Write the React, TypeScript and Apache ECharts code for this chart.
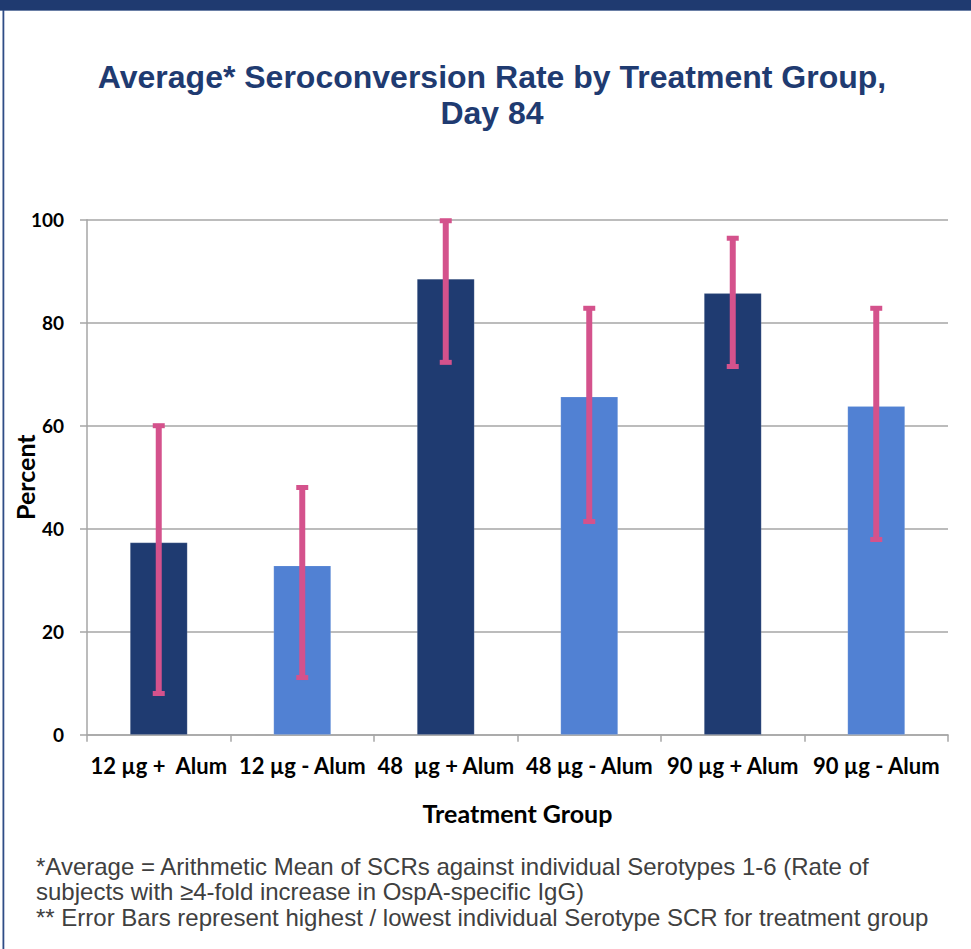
import React, { useEffect, useRef } from "react";
import * as echarts from "echarts";

const categories = ["12 µg +  Alum", "12 µg - Alum", "48  µg + Alum", "48 µg - Alum", "90 µg + Alum", "90 µg - Alum"];
const meanValues = [37.3, 32.8, 88.5, 65.6, 85.7, 63.8];
const highValues = [60, 48, 99.8, 82.8, 96.4, 82.8];
const lowValues = [8, 11.1, 72.3, 41.4, 71.5, 37.9];
const yTicks = [0, 20, 40, 60, 80, 100];
const titleLines = ["Average* Seroconversion Rate by Treatment Group,", "Day 84"];
const footnotes = [
  "*Average = Arithmetic Mean of SCRs against individual Serotypes 1-6 (Rate of",
  "subjects with ≥4-fold increase in OspA-specific IgG)",
  "** Error Bars represent highest / lowest individual Serotype SCR for treatment group",
];

const DARK = "#1F3B71";
const LIGHT = "#5181D3";
const PINK = "#D4528C";
const LABEL_FONT = "Lato";

export default function App() {
  const ref = useRef<HTMLDivElement>(null);
  useEffect(() => {
    if (!ref.current) return;
    const chart = echarts.init(ref.current, null, { renderer: "svg" });
    const barData = meanValues.map((v, i) => ({
      value: v,
      itemStyle: { color: i % 2 === 0 ? DARK : LIGHT },
    }));
    const errData = categories.map((_, i) => [i, lowValues[i], highValues[i]]);
    chart.setOption({
      animation: false,
      backgroundColor: "#ffffff",
      grid: {
        left: 87,
        right: 23,
        top: 219.7,
        bottom: 214.3,
        containLabel: false,
        outerBoundsMode: "none",
      },
      xAxis: {
        type: "category",
        data: categories,
        name: "Treatment Group",
        nameLocation: "middle",
        nameGap: 66,
        nameMoveOverlap: false,
        nameTextStyle: { fontFamily: LABEL_FONT, fontWeight: "bold", fontSize: 25, color: "#000" },
        axisLine: { lineStyle: { color: "#A6A6A6", width: 1.5 } },
        axisTick: { show: true, length: 7, lineStyle: { color: "#A6A6A6", width: 1.5 } },
        axisLabel: {
          fontFamily: LABEL_FONT,
          fontWeight: "bold",
          fontSize: 22,
          color: "#000",
          margin: 20,
          interval: 0,
        },
      },
      yAxis: {
        type: "value",
        min: 0,
        max: 100,
        interval: 20,
        name: "Percent",
        nameLocation: "middle",
        nameGap: 49.5,
        nameMoveOverlap: false,
        nameRotate: 90,
        nameTextStyle: { fontFamily: LABEL_FONT, fontWeight: "bold", fontSize: 25, color: "#000" },
        axisLine: { show: true, lineStyle: { color: "#A6A6A6", width: 1.5 } },
        axisTick: { show: true, length: 7, lineStyle: { color: "#A6A6A6", width: 1.5 } },
        splitLine: { lineStyle: { color: "#A6A6A6", width: 1.5 } },
        axisLabel: {
          fontFamily: LABEL_FONT,
          fontWeight: "bold",
          fontSize: 19,
          color: "#000",
          margin: 23,
          formatter: (v: number) => (yTicks.includes(v) ? String(v) : ""),
        },
      },
      series: [
        {
          type: "bar",
          data: barData,
          barWidth: "40%",
          itemStyle: { borderColor: "rgba(255,255,255,0.25)", borderWidth: 0.5 },
        },
        {
          type: "custom",
          data: errData,
          z: 10,
          renderItem: (params: any, api: any) => {
            const idx = api.value(0);
            const lo = api.coord([idx, api.value(1)]);
            const hi = api.coord([idx, api.value(2)]);
            const capW = 12;
            const capH = 5;
            const style = { fill: PINK, stroke: null };
            return {
              type: "group",
              children: [
                {
                  type: "line",
                  shape: { x1: hi[0], y1: hi[1], x2: lo[0], y2: lo[1] },
                  style: { stroke: PINK, lineWidth: 6 },
                },
                {
                  type: "rect",
                  shape: { x: hi[0] - capW / 2, y: hi[1] - capH / 2, width: capW, height: capH },
                  style,
                },
                {
                  type: "rect",
                  shape: { x: lo[0] - capW / 2, y: lo[1] - capH / 2, width: capW, height: capH },
                  style,
                },
              ],
            };
          },
        },
      ],
      graphic: [
        { type: "rect", shape: { x: 0, y: 0, width: 971, height: 10 }, style: { fill: "#1F3A70" }, z: 100 },
        { type: "rect", shape: { x: 0, y: 10, width: 971, height: 1 }, style: { fill: "#6A7FA6" }, z: 100 },
        { type: "rect", shape: { x: 2.5, y: 10, width: 1.8, height: 939 }, style: { fill: "#2F4C86" }, z: 100 },
        ...titleLines.map((t, i) => ({
          type: "text",
          x: 492,
          y: 77 + i * 36,
          style: {
            text: t,
            fontFamily: "Liberation Sans",
            fontWeight: "bold",
            fontSize: 32,
            fill: DARK,
            textAlign: "center",
            textVerticalAlign: "middle",
          },
          z: 100,
        })),
        ...footnotes.map((t, i) => ({
          type: "text",
          x: 36,
          y: 866 + i * 25.5,
          style: {
            text: t,
            fontFamily: "Liberation Sans",
            fontSize: 24,
            fill: "#404040",
            textAlign: "left",
            textVerticalAlign: "middle",
          },
          z: 100,
        })),
      ],
    });
    return () => chart.dispose();
  }, []);
  return <div ref={ref} style={{ position: "absolute", left: 0, top: 0, width: 971, height: 949 }} />;
}
